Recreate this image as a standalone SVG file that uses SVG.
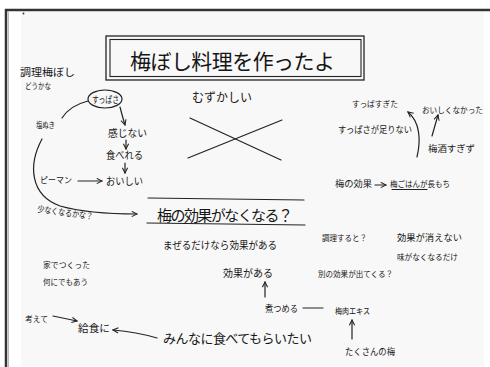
<svg xmlns="http://www.w3.org/2000/svg" width="490" height="367" viewBox="0 0 490 367">
<defs>
<style>
text{font-family:"Noto Sans CJK JP","Noto Sans",sans-serif;fill:#161616}
.ln{fill:none;stroke:#222;stroke-width:1.2;stroke-linecap:round}
.ar{fill:none;stroke:#222;stroke-width:1.2;stroke-linecap:round;marker-end:url(#ah)}
</style>
<marker id="ah" viewBox="0 0 8 8" refX="7" refY="4" markerWidth="7" markerHeight="7" markerUnits="userSpaceOnUse" orient="auto">
<path d="M1,1 L7,4 L1,7" fill="none" stroke="#222" stroke-width="1.2"/>
</marker>
</defs>
<rect width="490" height="367" fill="#ffffff"/>
<rect x="21" y="12" width="463" height="354" fill="#f8f8f8"/>
<path d="M5,10 L490,10" stroke="#333" stroke-width="2.5"/>
<path d="M6,9 L6,367" stroke="#333" stroke-width="2.5"/>
<path d="M8.5,11 L8.5,367" stroke="#bbb" stroke-width="1"/>
<circle cx="23.5" cy="13.5" r="0.9" fill="#333"/>

<g id="title">
<rect x="106" y="36" width="258" height="44" fill="none" stroke="#222" stroke-width="1.3"/>
<rect x="110" y="39.5" width="251" height="37" fill="none" stroke="#222" stroke-width="1.1"/>
<text x="130" y="69" font-size="21" textLength="205" lengthAdjust="spacing">梅ぼし料理を作ったよ</text>
</g>
<g id="n-chouri"><text x="20" y="76" font-size="10" textLength="55" lengthAdjust="spacingAndGlyphs">調理梅ぼし</text><text x="25" y="88.5" font-size="8" textLength="26" lengthAdjust="spacingAndGlyphs">どうかな</text></g>
<g id="n-suppasa"><ellipse cx="105" cy="99" rx="17" ry="9" fill="none" stroke="#222" stroke-width="1.2"/><text x="92" y="102.5" font-size="9" textLength="27" lengthAdjust="spacingAndGlyphs">すっぱさ</text></g>
<g id="n-muzukashii"><text x="192" y="102" font-size="12" textLength="60" lengthAdjust="spacing">むずかしい</text></g>
<g id="n-x"><path class="ln" d="M190,118 L281,160"/><path class="ln" d="M188,158 L282,120"/></g>
<g id="n-shionuki"><text x="36" y="128" font-size="7.5" textLength="19" lengthAdjust="spacingAndGlyphs">塩ぬき</text></g>
<g id="n-kanjinai"><text x="108" y="137" font-size="10" textLength="39" lengthAdjust="spacingAndGlyphs">感じない</text></g>
<g id="n-taberu"><text x="106" y="159" font-size="10" textLength="37" lengthAdjust="spacingAndGlyphs">食べれる</text></g>
<g id="n-oishii"><text x="106" y="185" font-size="10" textLength="37" lengthAdjust="spacingAndGlyphs">おいしい</text></g>
<g id="n-piman"><text x="40" y="183" font-size="8.5" textLength="32" lengthAdjust="spacingAndGlyphs">ピーマン</text></g>
<g id="n-sukunaku"><text x="37" y="212" font-size="9" textLength="56" lengthAdjust="spacingAndGlyphs" transform="rotate(8 37 212)">少なくなるかな？</text></g>
<g id="n-kouka-naku"><path class="ln" d="M148,198 L304,200"/><path class="ln" d="M147,223 L305,225"/><text x="157" y="221" font-size="15" textLength="136" lengthAdjust="spacing">梅の効果がなくなる？</text></g>
<g id="n-mazeru"><text x="163" y="249" font-size="10" textLength="114" lengthAdjust="spacingAndGlyphs">まぜるだけなら効果がある</text></g>
<g id="n-kouka-aru"><text x="223" y="277" font-size="10" textLength="50" lengthAdjust="spacingAndGlyphs">効果がある</text></g>
<g id="n-nitsumeru"><text x="265" y="312" font-size="9.5" textLength="33" lengthAdjust="spacingAndGlyphs">煮つめる</text></g>
<g id="n-bainiku"><text x="335" y="314" font-size="8.5" textLength="35" lengthAdjust="spacingAndGlyphs">梅肉エキス</text></g>
<g id="n-takusan"><text x="345" y="355" font-size="9" textLength="50" lengthAdjust="spacingAndGlyphs">たくさんの梅</text></g>
<g id="n-betsu"><text x="318" y="277" font-size="8" textLength="75" lengthAdjust="spacingAndGlyphs">別の効果が出てくる？</text></g>
<g id="n-chouri-suruto"><text x="322" y="241" font-size="8.5" textLength="45" lengthAdjust="spacingAndGlyphs">調理すると？</text></g>
<g id="n-kienai"><text x="397" y="241" font-size="9.5" textLength="65" lengthAdjust="spacingAndGlyphs">効果が消えない</text><text x="397" y="260" font-size="8" textLength="61" lengthAdjust="spacingAndGlyphs">味がなくなるだけ</text></g>
<g id="n-ume-kouka"><text x="335" y="187" font-size="9" textLength="37" lengthAdjust="spacingAndGlyphs">梅の効果</text></g>
<g id="n-nagamochi"><text x="390" y="187" font-size="8" textLength="60" lengthAdjust="spacingAndGlyphs">梅ごはんが長もち</text><path class="ln" d="M392,189.5 L427,189.5"/></g>
<g id="n-tarinai"><text x="338" y="133" font-size="9" textLength="74" lengthAdjust="spacingAndGlyphs">すっぱさが足りない</text></g>
<g id="n-sugita"><text x="352" y="107" font-size="8" textLength="46" lengthAdjust="spacingAndGlyphs">すっぱすぎた</text></g>
<g id="n-nakatta"><text x="422" y="113" font-size="8" textLength="61" lengthAdjust="spacingAndGlyphs">おいしくなかった</text></g>
<g id="n-umezake"><text x="428" y="152" font-size="9" textLength="47" lengthAdjust="spacingAndGlyphs">梅酒すぎず</text></g>
<g id="n-ie"><text x="43" y="268" font-size="8" textLength="47" lengthAdjust="spacingAndGlyphs">家でつくった</text><text x="43" y="285" font-size="8" textLength="45" lengthAdjust="spacingAndGlyphs">何にでもあう</text></g>
<g id="n-kangaete"><text x="25" y="322" font-size="8" textLength="23" lengthAdjust="spacingAndGlyphs">考えて</text></g>
<g id="n-kyushoku"><text x="78" y="332" font-size="10" textLength="32" lengthAdjust="spacingAndGlyphs">給食に</text></g>
<g id="n-minna"><text x="163" y="343" font-size="13" textLength="149" lengthAdjust="spacing">みんなに食べてもらいたい</text></g>

<g id="connectors">
<path class="ar" d="M120,107 Q122,115 125,125"/>
<path class="ar" d="M126,140 L126,149"/>
<path class="ar" d="M125,163 L125,173"/>
<path class="ar" d="M78,181 L102,181"/>
<path class="ln" d="M88,101 C76,104 67,110 62,118"/>
<path class="ar" d="M42,139 C28,165 30,195 60,206 C85,213 110,214 137,214"/>
<path class="ar" d="M265,297 L265,282"/>
<path class="ln" d="M303,308 L323,308"/>
<path class="ar" d="M352,339 L352,320"/>
<path class="ar" d="M375,185 L386,185"/>
<path class="ar" d="M417,157 C421,140 420,122 408,112"/>
<path class="ar" d="M432,136 L438,115"/>
<path class="ar" d="M53,316 L77,321"/>
<path class="ar" d="M157,338 C140,333 125,331 113,330"/>
</g>
</svg>
